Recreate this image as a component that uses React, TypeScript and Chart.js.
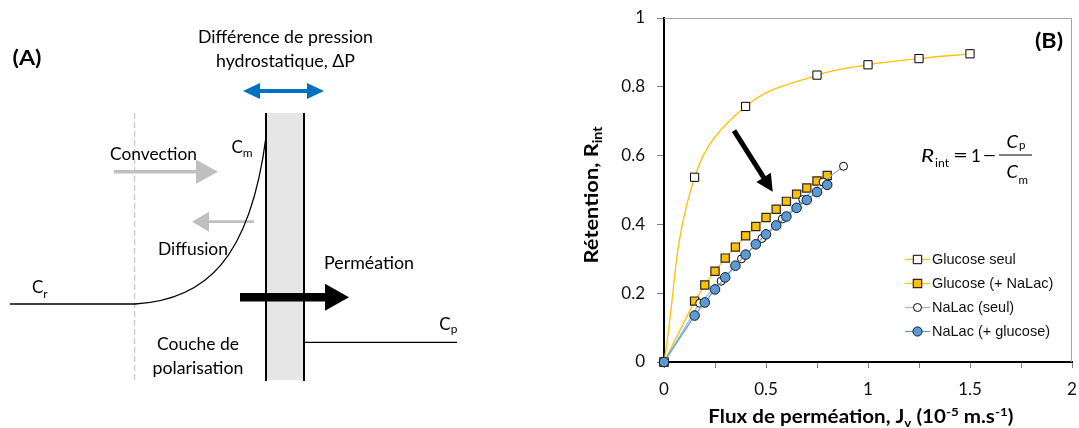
import React, { useEffect, useRef } from 'react';
import { Chart, registerables } from 'chart.js';

Chart.register(...registerables);

// ---------- data ----------
const seriesNames = ['Glucose seul', 'Glucose (+ NaLac)', 'NaLac (seul)', 'NaLac (+ glucose)'];

const glucoseSeulX = [0, 0.15, 0.4, 0.75, 1.0, 1.25, 1.5];
const glucoseSeulY = [0, 0.537, 0.743, 0.834, 0.864, 0.882, 0.896];

const glucoseMixX = [0, 0.15, 0.2, 0.25, 0.3, 0.35, 0.4, 0.45, 0.5, 0.55, 0.6, 0.65, 0.7, 0.75, 0.8];
const glucoseMixY = [0, 0.177, 0.224, 0.264, 0.302, 0.334, 0.367, 0.394, 0.42, 0.444, 0.467, 0.488, 0.506, 0.526, 0.542];

const nalacSeulX = [0, 0.175, 0.28, 0.38, 0.48, 0.58, 0.68, 0.78, 0.88];
const nalacSeulY = [0, 0.171, 0.235, 0.3, 0.359, 0.416, 0.472, 0.523, 0.569];

const nalacMixX = [0, 0.15, 0.2, 0.25, 0.3, 0.35, 0.4, 0.45, 0.5, 0.55, 0.6, 0.65, 0.7, 0.75, 0.8];
const nalacMixY = [0, 0.135, 0.173, 0.211, 0.246, 0.28, 0.312, 0.342, 0.371, 0.397, 0.423, 0.448, 0.471, 0.494, 0.515];

const xTickValues = [0, 0.25, 0.5, 0.75, 1, 1.25, 1.5, 1.75, 2];
const xTickLabels = ['0', '', '0.5', '', '1', '', '1.5', '', '2'];
const yTickValues = [0, 0.2, 0.4, 0.6, 0.8, 1];
const yTickLabels = ['0', '0.2', '0.4', '0.6', '0.8', '1'];

const ORANGE = '#FFC000';
const BLUE = '#5B9BD5';
const LIGHTBLUE = '#8FB8E3';
const CAL = 'Lato, "Open Sans", sans-serif';
const ARIAL = '"Liberation Sans", Arial, sans-serif';

const toPts = (xs: number[], ys: number[]) => xs.map((x, i) => ({ x, y: ys[i] }));

// ---------- text helpers ----------
type Seg = { t: string; s?: number; dy?: number; it?: boolean };

function rich(
  ctx: CanvasRenderingContext2D,
  segs: Seg[],
  x: number,
  y: number,
  size: number,
  family: string,
  weight: string,
  align: 'left' | 'center' | 'right',
  targetW?: number,
  color = '#000'
) {
  const fontOf = (sg: Seg) => `${sg.it ? 'italic ' : ''}${weight} ${size * (sg.s ?? 1)}px ${family}`;
  let w = 0;
  const ws = segs.map((sg) => {
    ctx.font = fontOf(sg);
    const m = ctx.measureText(sg.t).width;
    w += m;
    return m;
  });
  const sx = targetW ? targetW / w : 1;
  const total = w * sx;
  const x0 = align === 'center' ? x - total / 2 : align === 'right' ? x - total : x;
  ctx.save();
  ctx.translate(x0, y);
  ctx.scale(sx, 1);
  ctx.fillStyle = color;
  ctx.textAlign = 'left';
  ctx.textBaseline = 'alphabetic';
  let cx = 0;
  segs.forEach((sg, i) => {
    ctx.font = fontOf(sg);
    ctx.fillText(sg.t, cx, sg.dy ?? 0);
    cx += ws[i];
  });
  ctx.restore();
}

function arrowPoly(
  ctx: CanvasRenderingContext2D,
  x0: number,
  y0: number,
  x1: number,
  y1: number,
  shaftHalf: number,
  headLen: number,
  headHalf: number,
  color: string,
  doubleHead = false
) {
  const L = Math.hypot(x1 - x0, y1 - y0);
  const ux = (x1 - x0) / L;
  const uy = (y1 - y0) / L;
  const nx = -uy;
  const ny = ux;
  const P = (a: number, b: number) => [x0 + ux * a + nx * b, y0 + uy * a + ny * b];
  const pts: number[][] = [];
  if (doubleHead) {
    pts.push(P(0, 0), P(headLen, -headHalf), P(headLen, -shaftHalf));
  } else {
    pts.push(P(0, -shaftHalf));
  }
  pts.push(P(L - headLen, -shaftHalf), P(L - headLen, -headHalf), P(L, 0), P(L - headLen, headHalf), P(L - headLen, shaftHalf));
  if (doubleHead) {
    pts.push(P(headLen, shaftHalf), P(headLen, headHalf));
  } else {
    pts.push(P(0, shaftHalf));
  }
  ctx.save();
  ctx.fillStyle = color;
  ctx.beginPath();
  pts.forEach((p, i) => (i === 0 ? ctx.moveTo(p[0], p[1]) : ctx.lineTo(p[0], p[1])));
  ctx.closePath();
  ctx.fill();
  ctx.restore();
}

// ---------- panel A diagram ----------
function drawDiagram(ctx: CanvasRenderingContext2D) {
  ctx.save();
  rich(ctx, [{ t: '(A)' }], 27, 65, 20, CAL, 'bold', 'center', 29);
  rich(ctx, [{ t: 'Différence de pression' }], 285.5, 43, 17.5, CAL, 'normal', 'center', 175);
  rich(ctx, [{ t: 'hydrostatique, ΔP' }], 285.5, 66.5, 17.5, CAL, 'normal', 'center', 139);
  arrowPoly(ctx, 243, 91, 324, 91, 2, 17, 8, '#0070C0', true);

  ctx.fillStyle = '#E7E6E6';
  ctx.fillRect(266, 113, 38, 267);

  ctx.strokeStyle = '#BFBFBF';
  ctx.lineWidth = 1;
  ctx.setLineDash([6, 3]);
  ctx.beginPath();
  ctx.moveTo(134.7, 113);
  ctx.lineTo(134.7, 380);
  ctx.stroke();
  ctx.setLineDash([]);

  arrowPoly(ctx, 114, 171.7, 218, 171.7, 1.7, 22, 12, '#BFBFBF');
  arrowPoly(ctx, 254, 221.7, 192, 221.7, 1.4, 17, 10, '#BFBFBF');

  ctx.strokeStyle = '#000';
  ctx.lineWidth = 1.3;
  ctx.beginPath();
  ctx.moveTo(10, 304);
  ctx.lineTo(135, 304);
  ctx.bezierCurveTo(205, 300, 250, 260, 266, 137);
  ctx.stroke();

  arrowPoly(ctx, 240, 297.3, 349, 297.3, 4.3, 24, 13.5, '#000');

  ctx.strokeStyle = '#000';
  ctx.lineWidth = 2;
  ctx.beginPath();
  ctx.moveTo(266, 113);
  ctx.lineTo(266, 381);
  ctx.moveTo(304, 113);
  ctx.lineTo(304, 381);
  ctx.stroke();

  ctx.lineWidth = 1.3;
  ctx.beginPath();
  ctx.moveTo(304, 342.3);
  ctx.lineTo(457, 342.3);
  ctx.stroke();

  rich(ctx, [{ t: 'Convection' }], 110, 159.5, 17.5, CAL, 'normal', 'left', 87);
  rich(ctx, [{ t: 'Diffusion' }], 158, 254.5, 17.5, CAL, 'normal', 'left', 70);
  rich(ctx, [{ t: 'Perméation' }], 324, 268.5, 17.5, CAL, 'normal', 'left', 90);
  rich(ctx, [{ t: 'Couche de' }], 198, 350, 17.5, CAL, 'normal', 'center', 82);
  rich(ctx, [{ t: 'polarisation' }], 198, 373.5, 17.5, CAL, 'normal', 'center', 91);
  rich(ctx, [{ t: 'C' }, { t: 'r', s: 0.7, dy: 5 }], 32, 292.7, 17, CAL, 'normal', 'left');
  rich(ctx, [{ t: 'C' }, { t: 'm', s: 0.7, dy: 4 }], 231.5, 152.7, 17, CAL, 'normal', 'left');
  rich(ctx, [{ t: 'C' }, { t: 'p', s: 0.7, dy: 3 }], 439.3, 330, 17, CAL, 'normal', 'left');
  ctx.restore();
}

// ---------- panel B extras ----------
function drawPanelBExtras(chart: any) {
  const ctx: CanvasRenderingContext2D = chart.ctx;
  ctx.save();
  rich(ctx, [{ t: '(B)' }], 1049, 48, 20, CAL, 'bold', 'center', 28);

  // formula
  rich(ctx, [{ t: 'R', it: true }], 921, 161.7, 17.5, CAL, 'normal', 'left', 13);
  rich(ctx, [{ t: 'int' }], 935, 167, 11.5, CAL, 'normal', 'left', 14);
  rich(ctx, [{ t: '=' }], 953, 161, 18, CAL, 'normal', 'left', 15);
  rich(ctx, [{ t: '1' }], 971, 161.7, 17, CAL, 'normal', 'left');
  rich(ctx, [{ t: '\u2212' }], 982.5, 161, 18, CAL, 'normal', 'left', 14);
  ctx.strokeStyle = '#000';
  ctx.lineWidth = 1;
  ctx.beginPath();
  ctx.moveTo(999, 155);
  ctx.lineTo(1032, 155);
  ctx.stroke();
  rich(ctx, [{ t: 'C', it: true }], 1006.5, 148.3, 18, CAL, 'normal', 'left', 11.5);
  rich(ctx, [{ t: 'p' }], 1019, 148.5, 11.5, CAL, 'normal', 'left');
  rich(ctx, [{ t: 'C', it: true }], 1006.5, 178.3, 18, CAL, 'normal', 'left', 11.5);
  rich(ctx, [{ t: 'm' }], 1018.5, 183.5, 11.5, CAL, 'normal', 'left');

  arrowPoly(ctx, 734, 130.7, 772.7, 191.7, 2.5, 17, 8.6, '#000');

  // axis titles
  rich(
    ctx,
    [
      { t: 'Flux de perméation, J' },
      { t: 'v', s: 0.65, dy: 4 },
      { t: ' (10' },
      { t: '-5', s: 0.65, dy: -7 },
      { t: ' m.s' },
      { t: '-1', s: 0.65, dy: -7 },
      { t: ')' },
    ],
    708.3,
    423.3,
    18.5,
    CAL,
    'bold',
    'left',
    305
  );
  ctx.save();
  ctx.translate(598, 195);
  ctx.rotate(-Math.PI / 2);
  rich(ctx, [{ t: 'Rétention, R' }, { t: 'int', s: 0.65, dy: 4 }], 0, 0, 19, CAL, 'bold', 'center', 137);
  ctx.restore();

  // legend
  const ds = chart.data.datasets;
  const legendOrder = [0, 1, 2, 3];
  const ly = [259, 283, 307, 331];
  legendOrder.forEach((di, k) => {
    const d = ds[di];
    const y = ly[k];
    ctx.strokeStyle = d.borderColor;
    ctx.lineWidth = d.borderWidth;
    ctx.beginPath();
    ctx.moveTo(905, y + 0.5);
    ctx.lineTo(930, y + 0.5);
    ctx.stroke();
    ctx.fillStyle = d.pointBackgroundColor;
    ctx.strokeStyle = d.pointBorderColor;
    ctx.lineWidth = d.pointBorderWidth;
    ctx.beginPath();
    if (d.pointStyle === 'rect') {
      ctx.rect(917.5 - 4.2, y + 0.5 - 4.2, 8.4, 8.4);
    } else {
      ctx.arc(917.5, y + 0.5, d.legendR, 0, Math.PI * 2);
    }
    ctx.fill();
    ctx.stroke();
    rich(ctx, [{ t: seriesNames[di] }], 932, y + 5.3, 14.5, ARIAL, 'normal', 'left', undefined, '#111');
  });
  ctx.restore();
}

const framePlugin = {
  id: 'frame',
  beforeDatasetsDraw(chart: any) {
    const ctx: CanvasRenderingContext2D = chart.ctx;
    const a = chart.chartArea;
    ctx.save();
    ctx.strokeStyle = '#A6A6A6';
    ctx.lineWidth = 1;
    ctx.beginPath();
    ctx.moveTo(a.left, a.top + 0.5);
    ctx.lineTo(a.right - 0.5, a.top + 0.5);
    ctx.lineTo(a.right - 0.5, a.bottom);
    ctx.stroke();
    ctx.restore();
  },
  afterDraw(chart: any) {
    drawDiagram(chart.ctx);
    drawPanelBExtras(chart);
  },
};

export default function App() {
  const ref = useRef<HTMLCanvasElement>(null);
  useEffect(() => {
    document.body.style.margin = '0';
    const canvas = ref.current!;
    const chart = new Chart(canvas, {
      type: 'line',
      data: {
        datasets: [
          {
            label: seriesNames[0],
            data: toPts(glucoseSeulX, glucoseSeulY),
            borderColor: ORANGE,
            borderWidth: 1.3,
            tension: 0.4,
            pointStyle: 'rect',
            pointRadius: 5.8,
            pointBackgroundColor: '#FFFFFF',
            pointBorderColor: '#000',
            pointBorderWidth: 1,
            order: 4,
            clip: false,
          },
          {
            label: seriesNames[1],
            data: toPts(glucoseMixX, glucoseMixY),
            borderColor: ORANGE,
            borderWidth: 1.2,
            tension: 0,
            pointStyle: 'rect',
            pointRadius: 5.8,
            pointBackgroundColor: ORANGE,
            pointBorderColor: '#262626',
            pointBorderWidth: 1.2,
            order: 3,
            clip: false,
          },
          {
            label: seriesNames[2],
            data: toPts(nalacSeulX, nalacSeulY),
            borderColor: LIGHTBLUE,
            borderWidth: 1.2,
            tension: 0,
            pointStyle: 'circle',
            pointRadius: 4,
            pointBackgroundColor: '#FFFFFF',
            pointBorderColor: '#000',
            pointBorderWidth: 1,
            legendR: 4,
            order: 2,
            clip: false,
          },
          {
            label: seriesNames[3],
            data: toPts(nalacMixX, nalacMixY),
            borderColor: BLUE,
            borderWidth: 1.2,
            tension: 0,
            pointStyle: 'circle',
            pointRadius: 4.8,
            pointBackgroundColor: BLUE,
            pointBorderColor: '#1a1a1a',
            pointBorderWidth: 1,
            legendR: 4.6,
            order: 1,
            clip: false,
          },
        ] as any,
      },
      options: {
        responsive: false,
        animation: false,
        devicePixelRatio: 1,
        layout: { padding: { left: 564, right: 5, top: 18, bottom: 0 } },
        plugins: { legend: { display: false }, tooltip: { enabled: false }, title: { display: false } },
        scales: {
          x: {
            type: 'linear',
            min: 0,
            max: 2,
            afterBuildTicks: (s: any) => {
              s.ticks = xTickValues.map((v) => ({ value: v }));
            },
            afterFit: (s: any) => {
              s.height = 66;
              s.paddingLeft = 0;
              s.paddingRight = 0;
            },
            ticks: {
              autoSkip: false,
              maxRotation: 0,
              padding: 11,
              color: '#111',
              font: { family: CAL, size: 17 },
              callback: (_v: any, i: number) => xTickLabels[i],
            },
            grid: { drawOnChartArea: false, drawTicks: true, tickLength: 6, color: '#808080', lineWidth: 1 },
            border: { display: true, color: '#000', width: 2 },
          },
          y: {
            type: 'linear',
            min: 0,
            max: 1,
            afterBuildTicks: (s: any) => {
              s.ticks = yTickValues.map((v) => ({ value: v }));
            },
            afterFit: (s: any) => {
              s.width = 100;
              s.paddingTop = 0;
              s.paddingBottom = 0;
            },
            ticks: {
              autoSkip: false,
              padding: 12,
              color: '#111',
              font: { family: CAL, size: 17 },
              callback: (_v: any, i: number) => yTickLabels[i],
            },
            grid: { drawOnChartArea: false, drawTicks: true, tickLength: 7, color: '#808080', lineWidth: 1 },
            border: { display: true, color: '#000', width: 2 },
          },
        },
      } as any,
      plugins: [framePlugin],
    });
    return () => chart.destroy();
  }, []);

  return (
    <div style={{ position: 'absolute', left: 0, top: 0, width: 1079, height: 428, background: '#fff' }}>
      <canvas ref={ref} width={1079} height={428} style={{ display: 'block', width: 1079, height: 428 }} />
    </div>
  );
}
